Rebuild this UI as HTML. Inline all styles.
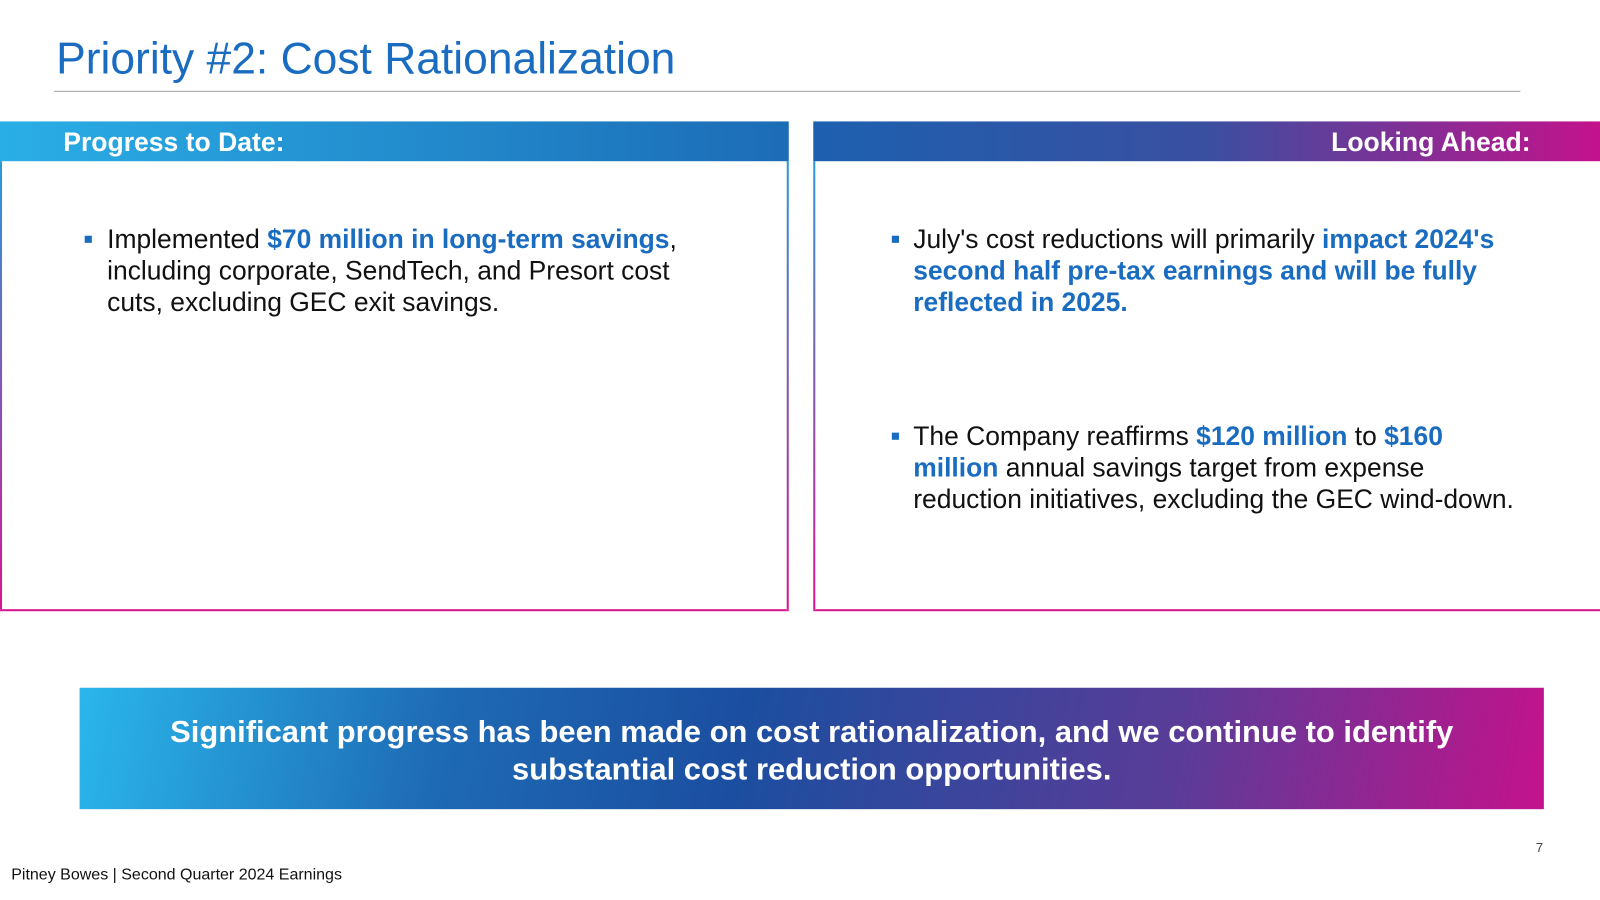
<!DOCTYPE html>
<html><head><meta charset="utf-8"><style>
html,body{margin:0;padding:0;background:#fff;width:1600px;height:900px;overflow:hidden;font-family:"Liberation Sans",Arial,sans-serif}
#s{position:absolute;left:0;top:0;width:1568px;height:882px;transform:scale(1.0204);transform-origin:0 0}
.a{position:absolute}
.hdr{position:absolute;top:119px;height:39px;color:#fff;font-weight:bold;font-size:26px;line-height:41px}
.box{position:absolute;top:158px;height:439px;border-left:2px solid;border-right:2px solid;border-bottom:2px solid #d6168e;border-image:linear-gradient(#2a9ad8,#d6168e) 1;}
.txt{position:absolute;font-size:25.9px;line-height:31px;color:#111}
.b{color:#1a6cc0;font-weight:bold}
.bul{position:absolute;width:7px;height:7px;background:#1a6cc0}
</style></head><body>
<div id="s">
<div class="a" style="left:55px;top:34px;font-size:43.5px;color:#1a6cc0">Priority #2: Cost Rationalization</div>
<div class="a" style="left:53px;top:89px;width:1437px;height:1px;background:#a0a0a0"></div>

<div class="box" style="left:0;width:769px"></div>
<div class="hdr" style="left:0;width:773px;background:linear-gradient(90deg,#2aaee6,#1c6cb6)"><span style="margin-left:62px">Progress to Date:</span></div>
<div class="bul" style="left:83px;top:231px"></div>
<div class="txt" style="left:105px;top:220px;width:575px">Implemented <span class="b">$70 million in long-term savings</span>, including corporate, SendTech, and Presort cost cuts, excluding GEC exit savings.</div>

<div class="box" style="left:797px;width:775px;border-right:none"></div>
<div class="hdr" style="left:797px;width:771px;background:linear-gradient(90deg,#1d60b0,#3a4fa0 50%,#c4128c);text-align:right"><span style="margin-right:68px">Looking Ahead:</span></div>
<div class="bul" style="left:874px;top:231px"></div>
<div class="txt" style="left:895px;top:220px;width:590px">July's cost reductions will primarily <span class="b">impact 2024's second half pre-tax earnings and will be fully reflected in 2025.</span></div>
<div class="bul" style="left:874px;top:424px"></div>
<div class="txt" style="left:895px;top:413px;width:605px">The Company reaffirms <span class="b">$120 million</span> to <span class="b">$160 million</span> annual savings target from expense reduction initiatives, excluding the GEC wind-down.</div>

<div class="a" style="left:78px;top:674px;width:1435px;height:119px;background:linear-gradient(100deg,#2ab6ea 0%,#1e6ab4 25%,#1b4ea0 45%,#5a3c98 75%,#c4128c 100%);color:#fff;font-weight:bold;font-size:30.3px;line-height:37px;text-align:center;box-sizing:border-box;padding-top:25px">Significant progress has been made on cost rationalization, and we continue to identify<br>substantial cost reduction opportunities.</div>

<div class="a" style="left:1505px;top:823px;font-size:13px;color:#444">7</div>
<div class="a" style="left:11px;top:849px;font-size:15.7px;color:#111">Pitney Bowes | Second Quarter 2024 Earnings</div>
</div>
</body></html>
